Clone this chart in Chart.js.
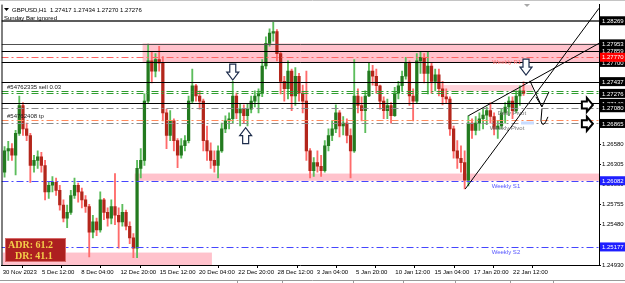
<!DOCTYPE html>
<html>
<head>
<meta charset="utf-8">
<script src="https://cdn.jsdelivr.net/npm/chart.js@4.4.1/dist/chart.umd.min.js"></script>
<style>
  html, body { margin: 0; padding: 0; background: #fff; }
</style>
</head>
<body>
<canvas id="gbpChart" width="625" height="283"></canvas>
<script>
// GBPUSD H1 screenshot, price path squeezed into 6 hour candles
const opens = [
  1.2620,1.2649,1.2652,1.2643,1.2673,1.2711,1.2679,1.2670,1.2629,1.2636,
  1.2641,1.2629,1.2593,1.2602,1.2606,1.2595,1.2575,1.2557,1.2565,1.2588,
  1.2602,1.2593,1.2582,1.2573,1.2538,1.2552,1.2541,1.2582,1.2565,1.2557,
  1.2573,1.2561,1.2552,1.2565,1.2546,1.2530,1.2516,1.2625,1.2636,1.2717,
  1.2772,1.2758,1.2774,1.2769,1.2701,1.2670,1.2690,1.2663,1.2643,1.2656,
  1.2663,1.2717,1.2738,1.2724,1.2717,1.2663,1.2649,1.2636,1.2629,1.2649,
  1.2679,1.2690,1.2693,1.2724,1.2701,1.2706,1.2697,1.2706,1.2717,1.2724,
  1.2728,1.2765,1.2796,1.2810,1.2812,1.2782,1.2744,1.2734,1.2758,1.2724,
  1.2751,1.2728,1.2717,1.2649,1.2622,1.2633,1.2628,1.2622,1.2656,1.2670,
  1.2679,1.2701,1.2683,1.2687,1.2670,1.2649,1.2724,1.2711,1.2704,1.2724,
  1.2758,1.2751,1.2738,1.2717,1.2704,1.2711,1.2697,1.2728,1.2738,1.2751,
  1.2769,1.2724,1.2717,1.2772,1.2777,1.2755,1.2765,1.2744,1.2753,1.2734,
  1.2723,1.2720,1.2679,1.2649,1.2639,1.2633,1.2609,1.2687,1.2677,1.2687,
  1.2693,1.2698,1.2704,1.2696,1.2679,1.2683,1.2701,1.2709,1.2717,1.2704,
  1.2724,1.2731
];
const highs = [
  1.2655,1.2662,1.2659,1.2677,1.2724,1.2715,1.2687,1.2673,1.2643,1.2649,
  1.2647,1.2636,1.2606,1.2614,1.2612,1.2602,1.2582,1.2575,1.2595,1.2612,
  1.2605,1.2598,1.2588,1.2576,1.2561,1.2557,1.2593,1.2584,1.2571,1.2582,
  1.2618,1.2571,1.2576,1.2568,1.2552,1.2536,1.2636,1.2652,1.2727,1.2795,
  1.2785,1.2782,1.2792,1.2778,1.2706,1.2704,1.2693,1.2666,1.2666,1.2670,
  1.2724,1.2761,1.2740,1.2731,1.2720,1.2683,1.2660,1.2649,1.2656,1.2687,
  1.2697,1.2701,1.2744,1.2728,1.2713,1.2712,1.2713,1.2724,1.2731,1.2734,
  1.2774,1.2805,1.2816,1.2826,1.2815,1.2785,1.2751,1.2772,1.2761,1.2763,
  1.2755,1.2739,1.2758,1.2652,1.2640,1.2649,1.2643,1.2663,1.2679,1.2690,
  1.2712,1.2704,1.2696,1.2693,1.2679,1.2774,1.2734,1.2723,1.2731,1.2769,
  1.2766,1.2761,1.2739,1.2723,1.2720,1.2715,1.2736,1.2744,1.2758,1.2777,
  1.2772,1.2734,1.2782,1.2785,1.2782,1.2785,1.2769,1.2761,1.2761,1.2744,
  1.2734,1.2723,1.2683,1.2663,1.2656,1.2649,1.2697,1.2693,1.2696,1.2701,
  1.2706,1.2709,1.2715,1.2701,1.2690,1.2706,1.2715,1.2723,1.2723,1.2731,
  1.2738,1.27434
];
const lows = [
  1.2613,1.2636,1.2636,1.2616,1.2670,1.2670,1.2663,1.2606,1.2620,1.2625,
  1.2620,1.2582,1.2584,1.2593,1.2588,1.2568,1.2552,1.2544,1.2562,1.2584,
  1.2579,1.2571,1.2565,1.2504,1.2530,1.2533,1.2538,1.2555,1.2546,1.2549,
  1.2548,1.2516,1.2546,1.2541,1.2522,1.2503,1.2503,1.2612,1.2629,1.2715,
  1.2742,1.2750,1.2758,1.2690,1.2652,1.2663,1.2649,1.2626,1.2639,1.2649,
  1.2660,1.2715,1.2717,1.2706,1.2649,1.2636,1.2625,1.2620,1.2612,1.2647,
  1.2674,1.2679,1.2687,1.2693,1.2683,1.2687,1.2683,1.2701,1.2709,1.2701,
  1.2723,1.2761,1.2792,1.2799,1.2772,1.2727,1.2717,1.2720,1.2704,1.2711,
  1.2717,1.2701,1.2636,1.2612,1.2614,1.2620,1.2614,1.2620,1.2649,1.2663,
  1.2674,1.2668,1.2671,1.2660,1.2612,1.2647,1.2701,1.2690,1.2674,1.2723,
  1.2739,1.2728,1.2706,1.2693,1.2693,1.2687,1.2696,1.2720,1.2731,1.2747,
  1.2711,1.2690,1.2715,1.2755,1.2742,1.2727,1.2728,1.2731,1.2724,1.2712,
  1.2715,1.2670,1.2639,1.2625,1.2620,1.2597,1.2601,1.2666,1.2671,1.2677,
  1.2679,1.2685,1.2687,1.2671,1.2666,1.2679,1.2687,1.2697,1.2693,1.2701,
  1.2711,1.2725
];
const closes = [
  1.2649,1.2652,1.2643,1.2673,1.2711,1.2679,1.2670,1.2629,1.2636,1.2641,
  1.2629,1.2593,1.2602,1.2606,1.2595,1.2575,1.2557,1.2565,1.2588,1.2602,
  1.2593,1.2582,1.2573,1.2538,1.2552,1.2541,1.2582,1.2565,1.2557,1.2573,
  1.2561,1.2552,1.2565,1.2546,1.2530,1.2516,1.2625,1.2636,1.2717,1.2772,
  1.2758,1.2774,1.2769,1.2701,1.2670,1.2690,1.2663,1.2643,1.2656,1.2663,
  1.2717,1.2738,1.2724,1.2717,1.2663,1.2649,1.2636,1.2629,1.2649,1.2679,
  1.2690,1.2693,1.2724,1.2701,1.2706,1.2697,1.2706,1.2717,1.2724,1.2728,
  1.2765,1.2796,1.2810,1.2812,1.2782,1.2744,1.2734,1.2758,1.2724,1.2751,
  1.2728,1.2717,1.2649,1.2622,1.2633,1.2628,1.2622,1.2656,1.2670,1.2679,
  1.2701,1.2683,1.2687,1.2670,1.2649,1.2724,1.2711,1.2704,1.2724,1.2758,
  1.2751,1.2738,1.2717,1.2704,1.2711,1.2697,1.2728,1.2738,1.2751,1.2769,
  1.2724,1.2717,1.2772,1.2777,1.2755,1.2765,1.2744,1.2753,1.2734,1.2723,
  1.2720,1.2679,1.2649,1.2639,1.2633,1.2609,1.2687,1.2677,1.2687,1.2693,
  1.2698,1.2704,1.2696,1.2679,1.2683,1.2701,1.2709,1.2717,1.2704,1.2724,
  1.2731,1.27276
];

// time axis is in H1 bars, label every 64 bars
const dateTickIdx = [0,64,128,192,256,320,384,448,512,576,640,704,768,832];
const dateTickLabels = ['30 Nov 2023','5 Dec 12:00','8 Dec 04:00','12 Dec 20:00','15 Dec 12:00',
  '20 Dec 04:00','22 Dec 20:00','28 Dec 12:00','3 Jan 04:00','5 Jan 20:00','10 Jan 12:00',
  '15 Jan 04:00','17 Jan 20:00','22 Jan 12:00'];
const priceTicks = [1.24930,1.25205,1.25480,1.25755,1.26030,1.26305,1.26580,1.26855,1.27130,1.27405,1.27680,1.27955,1.28230];

// levels drawn on the chart
const topLevel = 1.28269;
const solidLevels = [1.27953, 1.27859, 1.27700, 1.27437, 1.27140];
const sellLevels = [1.2731, 1.27276];
const tpLevel = 1.26911;
const pivotNames = ['Weekly R1', 'Daily Pivot', 'Weekly Pivot', 'Weekly S1', 'Weekly S2'];
const pivotPrices = [1.27770, 1.27080, 1.26865, 1.26082, 1.25177];
const pivotLabelIdx = [798, 807, 794, 797, 797];

// zones: bar range + price range
const zoneFrom = [228, 215, 0, 712];
const zoneTo = [972, 972, 341, 864];
const zoneTop = [1.2796, 1.2618, 1.2510, 1.2739];
const zoneBottom = [1.2770, 1.26082, 1.2493, 1.2731];

// trendlines (bar, price)
const trendStart = [[754, 1.2597], [759, 1.2697]];
const trendEnd = [[972, 1.2844], [972, 1.2796]];

// arrows (tip at bar, price)
const downArrows = [[375, 1.27458], [853, 1.27526]];
const upArrows = [[396, 1.26807]];
const rightArrows = [[962, 1.27119], [962, 1.26861]];
const sketchArrow = [879, 1.27092];

// right side price tags
const tagPrices = [1.28269, 1.27953, 1.27859, 1.27700, 1.27770, 1.27437, 1.27276, 1.27140, 1.27080, 1.26865, 1.26082, 1.25177];
const tagKinds  = ['k','k','k','k','r','k','k','k','k','k','b','b'];

const FONT = "'Liberation Sans', Arial, sans-serif";
const DASHDOT = [7, 3, 2, 3];

const candleIdx = opens.map((_, k) => k * 6 + 3);
const isUp = closes.map((c, i) => c >= opens[i]);

const overlay = {
  id: 'overlay',
  beforeDatasetsDraw(chart) {
    const { ctx, chartArea: a, scales: { x, y } } = chart;
    ctx.save();
    ctx.beginPath(); ctx.rect(a.left, a.top, a.right - a.left, a.bottom - a.top); ctx.clip();
    zoneFrom.forEach((f, i) => {
      const x0 = x.getPixelForValue(f), x1 = x.getPixelForValue(zoneTo[i]);
      const y0 = y.getPixelForValue(zoneTop[i]), y1 = y.getPixelForValue(zoneBottom[i]);
      ctx.fillStyle = i === 3 ? '#ffd3da' : '#ffc2cc';
      ctx.fillRect(x0, y0, x1 - x0, y1 - y0);
    });
    ctx.restore();
  },
  afterDatasetsDraw(chart) {
    const { ctx, chartArea: a, scales: { x, y } } = chart;
    const L = a.left, R = a.right;
    ctx.save();
    ctx.beginPath(); ctx.rect(L, a.top, R - L, a.bottom - a.top); ctx.clip();

    const hline = (p, color, w, dash) => {
      const yy = Math.round(y.getPixelForValue(p)) + (w % 2 ? 0.5 : 0);
      ctx.strokeStyle = color; ctx.lineWidth = w; ctx.setLineDash(dash || []);
      ctx.beginPath(); ctx.moveTo(L, yy); ctx.lineTo(R, yy); ctx.stroke();
      return yy;
    };

    hline(topLevel, '#5c5c5c', 2);
    solidLevels.forEach((p, i) => hline(p, i === 0 ? '#505050' : '#000', 1));
    sellLevels.forEach(p => hline(p, '#2f9e2f', 1, DASHDOT));
    hline(tpLevel, '#ff8a5c', 1, DASHDOT);

    const pivotColors = ['#ff6464', '#8a8a8a', '#8a8a8a', '#4646ff', '#4646ff'];
    const pivotText = ['#ff6a6a', '#777', '#777', '#5555ff', '#5555ff'];
    ctx.font = '6px ' + FONT;
    ctx.textBaseline = 'top';
    pivotPrices.forEach((p, i) => {
      const yy = hline(p, pivotColors[i], 1, DASHDOT);
      ctx.setLineDash([]);
      ctx.fillStyle = pivotText[i];
      ctx.fillText(pivotNames[i], x.getPixelForValue(pivotLabelIdx[i]), yy + 1.5);
    });

    // small marker under weekly pivot text
    ctx.fillStyle = '#c9dcff';
    ctx.fillRect(x.getPixelForValue(845), y.getPixelForValue(1.26892), x.getPixelForValue(866) - x.getPixelForValue(845), 3);

    // order labels
    ctx.fillStyle = '#1a1a1a';
    ctx.textBaseline = 'bottom';
    ctx.fillText('#54762335 sell 0.03', x.getPixelForValue(7), y.getPixelForValue(sellLevels[0]) - 0.5);
    ctx.fillText('#54762408 tp', x.getPixelForValue(7), y.getPixelForValue(tpLevel) - 1);

    // trendlines
    ctx.strokeStyle = '#000'; ctx.lineWidth = 1; ctx.setLineDash([]);
    trendStart.forEach((s, i) => {
      ctx.beginPath();
      ctx.moveTo(x.getPixelForValue(s[0]), y.getPixelForValue(s[1]));
      ctx.lineTo(x.getPixelForValue(trendEnd[i][0]), y.getPixelForValue(trendEnd[i][1]));
      ctx.stroke();
    });

    // hand drawn arrow near the last bars
    const sx = x.getPixelForValue(sketchArrow[0]), sy = y.getPixelForValue(sketchArrow[1]);
    ctx.lineWidth = 1;
    ctx.beginPath();
    ctx.moveTo(sx - 12, sy - 26); ctx.lineTo(sx, sy);
    ctx.moveTo(sx - 6, sy - 10); ctx.lineTo(sx, sy); ctx.lineTo(sx + 7, sy - 15);
    ctx.moveTo(sx, sy + 2); ctx.lineTo(sx - 1, sy + 14);
    ctx.quadraticCurveTo(sx + 1, sy + 23, sx + 6, sy + 10);
    ctx.stroke();

    // block arrows
    const blockDown = (tx, ty, dir) => {
      const s = dir;
      ctx.beginPath();
      ctx.moveTo(tx - 3, ty - s * 16);
      ctx.lineTo(tx + 3, ty - s * 16);
      ctx.lineTo(tx + 3, ty - s * 8);
      ctx.lineTo(tx + 6, ty - s * 8);
      ctx.lineTo(tx, ty);
      ctx.lineTo(tx - 6, ty - s * 8);
      ctx.lineTo(tx - 3, ty - s * 8);
      ctx.closePath();
      ctx.fillStyle = '#fff'; ctx.fill();
      ctx.strokeStyle = '#1e2d4c'; ctx.lineWidth = 1.2; ctx.stroke();
    };
    downArrows.forEach(d => blockDown(x.getPixelForValue(d[0]), y.getPixelForValue(d[1]), 1));
    upArrows.forEach(d => blockDown(x.getPixelForValue(d[0]), y.getPixelForValue(d[1]), -1));
    rightArrows.forEach(d => {
      const tx = x.getPixelForValue(d[0]), ty = y.getPixelForValue(d[1]);
      ctx.beginPath();
      ctx.moveTo(tx - 11, ty - 3.5);
      ctx.lineTo(tx - 6, ty - 3.5);
      ctx.lineTo(tx - 6, ty - 7);
      ctx.lineTo(tx, ty);
      ctx.lineTo(tx - 6, ty + 7);
      ctx.lineTo(tx - 6, ty + 3.5);
      ctx.lineTo(tx - 11, ty + 3.5);
      ctx.closePath();
      ctx.fillStyle = '#fff'; ctx.fill();
      ctx.strokeStyle = '#000'; ctx.lineWidth = 2; ctx.stroke();
    });
    ctx.restore();

    // ADR panel
    ctx.save();
    ctx.fillStyle = '#ad2020';
    ctx.fillRect(5, 238, 61, 24);
    ctx.strokeStyle = '#d86a6a'; ctx.lineWidth = 1;
    ctx.strokeRect(5.5, 238.5, 60, 23);
    ctx.fillStyle = '#f4cf4a';
    ctx.font = "bold 10px 'Liberation Serif', serif";
    ctx.textBaseline = 'middle';
    ctx.fillText('ADR: 61.2', 8, 245);
    ctx.fillText('DR: 41.1', 15, 256);

    // header
    ctx.fillStyle = '#000';
    ctx.beginPath(); ctx.moveTo(4, 8); ctx.lineTo(9, 8); ctx.lineTo(6.5, 11); ctx.closePath(); ctx.fill();
    ctx.font = '6px ' + FONT;
    ctx.fillText('GBPUSD,H1  1.27417 1.27434 1.27270 1.27276', 12, 10);
    ctx.fillText('Sunday Bar ignored', 4, 18);
    // chart shift marker
    ctx.fillStyle = '#a8a8a8';
    ctx.beginPath(); ctx.moveTo(524, 4); ctx.lineTo(530, 4); ctx.lineTo(527, 7); ctx.closePath(); ctx.fill();
    ctx.restore();
  },
  afterDraw(chart) {
    const { ctx, chartArea: a, scales: { y } } = chart;
    ctx.save();
    ctx.font = '6px ' + FONT;
    ctx.textBaseline = 'middle';
    const fills = { k: '#000', r: '#ff0000', b: '#1f1fff' };
    tagPrices.forEach((p, i) => {
      const yy = y.getPixelForValue(p);
      ctx.fillStyle = fills[tagKinds[i]];
      ctx.fillRect(a.right + 1, yy - 4.5, 25, 9);
      ctx.fillStyle = '#fff';
      ctx.fillText(p.toFixed(5), a.right + 3, yy + 0.5);
    });
    // frame + window bits
    ctx.strokeStyle = '#000'; ctx.lineWidth = 1;
    ctx.beginPath(); ctx.moveTo(a.left + 0.5, a.top); ctx.lineTo(a.left + 0.5, a.bottom); ctx.stroke();
    ctx.strokeStyle = '#c4c4c4';
    ctx.beginPath(); ctx.moveTo(0, 0.5); ctx.lineTo(625, 0.5); ctx.stroke();
    ctx.strokeStyle = '#9a9a9a';
    ctx.beginPath(); ctx.moveTo(0, 280.5); ctx.lineTo(625, 280.5);
    [237, 282, 353, 403, 455, 510, 553].forEach(v => { ctx.moveTo(v + 0.5, 281); ctx.lineTo(v + 0.5, 283); });
    ctx.stroke();
    ctx.restore();
  }
};

const ctx = document.getElementById('gbpChart').getContext('2d');

let gbpChart = new Chart(ctx, {
  type: 'bar',
  data: {
    datasets: [{
      label: 'body',
      data: candleIdx.map((v, i) => ({ x: v, y: [opens[i], closes[i]] })),
      backgroundColor: isUp.map(u => u ? '#237a1f' : '#b3261b'),
      barThickness: 2.6,
      minBarLength: 1,
      grouped: false,
      order: 0
    }, {
      label: 'wick',
      data: candleIdx.map((v, i) => ({ x: v, y: [lows[i], highs[i]] })),
      backgroundColor: isUp.map(u => u ? '#5cbd5c' : '#ff6b6b'),
      barThickness: 1.2,
      grouped: false,
      order: 1
    }]
  },
  options: {
    responsive: false,
    animation: false,
    events: [],
    layout: { padding: { left: 1.5, top: 3, right: 0, bottom: 0 } },
    plugins: { legend: { display: false }, tooltip: { enabled: false } },
    scales: {
      x: {
        type: 'linear', min: -2, max: 972, offset: false,
        afterBuildTicks: s => { s.ticks = dateTickIdx.map(v => ({ value: v })); },
        afterFit: s => { s.height = 18; },
        ticks: {
          autoSkip: false, maxRotation: 0, align: 'start', padding: 1, color: '#000',
          font: { family: FONT, size: 6 },
          callback: (v, i) => dateTickLabels[i]
        },
        grid: { drawOnChartArea: false, drawTicks: true, tickLength: 3, color: '#000' },
        border: { display: true, color: '#000' }
      },
      y: {
        position: 'right', min: 1.2493, max: 1.2849,
        afterBuildTicks: s => { s.ticks = priceTicks.map(v => ({ value: v })); },
        afterFit: s => { s.width = 26; },
        ticks: {
          autoSkip: false, padding: 1, color: '#000',
          font: { family: FONT, size: 6 },
          callback: v => v.toFixed(5)
        },
        grid: { drawOnChartArea: false, drawTicks: true, tickLength: 2, color: '#000' },
        border: { display: true, color: '#000' }
      }
    }
  },
  plugins: [overlay]
});
</script>
</body>
</html>
